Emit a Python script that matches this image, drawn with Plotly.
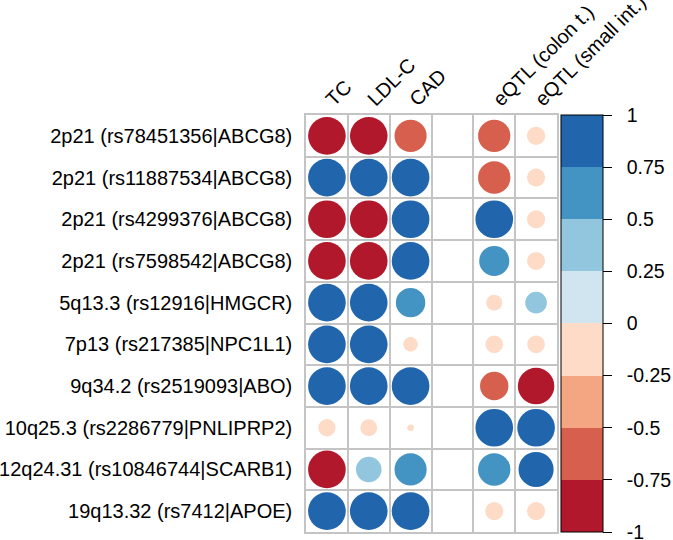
import numpy as np
import plotly.graph_objects as go

rows = ["2p21 (rs78451356|ABCG8)", "2p21 (rs11887534|ABCG8)", "2p21 (rs4299376|ABCG8)",
        "2p21 (rs7598542|ABCG8)", "5q13.3 (rs12916|HMGCR)", "7p13 (rs217385|NPC1L1)",
        "9q34.2 (rs2519093|ABO)", "10q25.3 (rs2286779|PNLIPRP2)", "12q24.31 (rs10846744|SCARB1)",
        "19q13.32 (rs7412|APOE)"]
cols = ["TC", "LDL-C", "CAD", "", "eQTL (colon t.)", "eQTL (small int.)"]

TC = [-1, 1, -1, -1, 1, 1, 1, -0.21, -1, 1]
LDL_C = [-1, 1, -1, -1, 1, 1, 1, -0.2, 0.46, 1]
CAD = [-0.73, 1, 1, 1, 0.61, -0.15, 1, -0.03, 0.73, 1]
BLANK = [None] * 10
EQTL_COLON = [-0.74, -0.74, 1, 0.64, -0.18, -0.22, -0.57, 1, 0.74, -0.23]
EQTL_SMALL = [-0.24, -0.23, -0.23, -0.23, 0.33, -0.22, -0.94, 1, 0.87, -0.23]
columns_values = [TC, LDL_C, CAD, BLANK, EQTL_COLON, EQTL_SMALL]

cbar_ticks = [1, 0.75, 0.5, 0.25, 0, -0.25, -0.5, -0.75, -1]
cbar_text = ["1", "0.75", "0.5", "0.25", "0", "-0.25", "-0.5", "-0.75", "-1"]

palette = ["#B2182B", "#D6604D", "#F4A582", "#FDDBC7", "#D1E5F0", "#92C5DE", "#4393C3", "#2166AC"]
n = len(palette)
colorscale = []
for i, c in enumerate(palette):
    colorscale.append([i / n, c])
    colorscale.append([(i + 1) / n, c])

W, H = 673, 540
ML, MR, MT, MB = 306, 116, 115, 8
cell_px = (W - ML - MR) / len(cols)

xs, ys, vals, sizes = [], [], [], []
for ci, colvals in enumerate(columns_values):
    for ri, v in enumerate(colvals):
        if v is None:
            continue
        xs.append(ci + 1)
        ys.append(ri + 1)
        vals.append(v)
        sizes.append(0.9 * np.sqrt(abs(v)) * cell_px)

FONT = "Liberation Sans, Arial, Helvetica, sans-serif"
GRID = "#C4C4C4"
FS = 20
PAD = "\u00a0\u00a0"

fig = go.Figure()
fig.add_trace(go.Scatter(
    x=xs, y=ys, mode="markers", hoverinfo="skip",
    marker=dict(
        size=sizes, color=vals, colorscale=colorscale, cmin=-1, cmax=1,
        line=dict(width=0), opacity=1,
        colorbar=dict(
            x=1.016, xanchor="left", y=0.5, yanchor="middle", len=1.0, lenmode="fraction",
            thickness=42, xpad=0, ypad=0, outlinewidth=1, outlinecolor="black",
            tickvals=cbar_ticks, ticktext=[PAD + t for t in cbar_text],
            ticks="outside", ticklen=9, tickcolor="black", tickwidth=1,
            ticklabeloverflow="allow",
            tickfont=dict(size=19.5, color="black", family=FONT),
        ),
    ),
    showlegend=False,
))

fig.update_layout(
    width=W, height=H,
    margin=dict(l=ML, r=MR, t=MT, b=MB, autoexpand=False),
    paper_bgcolor="white", plot_bgcolor="white",
    font=dict(family=FONT, size=FS, color="black"),
    xaxis=dict(
        range=[0.5, len(cols) + 0.5], side="top", automargin=False,
        tickvals=list(range(1, len(cols) + 1)), ticktext=cols, tickangle=-45,
        showgrid=False, zeroline=False, ticks="",
        showline=True, mirror=True, linecolor=GRID, linewidth=1.5,
        minor=dict(tickvals=[i + 0.5 for i in range(len(cols) + 1)], showgrid=True,
                   gridcolor=GRID, gridwidth=1.5, ticks=""),
        tickfont=dict(size=FS, family=FONT),
        ticklabeloverflow="allow",
        ticklabelstandoff=-5,
        fixedrange=True,
    ),
    yaxis=dict(
        range=[len(rows) + 0.5, 0.5], automargin=False,
        tickvals=list(range(1, len(rows) + 1)), ticktext=rows,
        showgrid=False, zeroline=False, ticks="",
        showline=True, mirror=True, linecolor=GRID, linewidth=1.5,
        minor=dict(tickvals=[i + 0.5 for i in range(len(rows) + 1)], showgrid=True,
                   gridcolor=GRID, gridwidth=1.5, ticks=""),
        tickfont=dict(size=FS, family=FONT),
        ticklabelstandoff=8,
        fixedrange=True,
    ),
)

fig.write_html("out.html", config={"displayModeBar": False},
               post_script="document.body.style.margin='0';")
